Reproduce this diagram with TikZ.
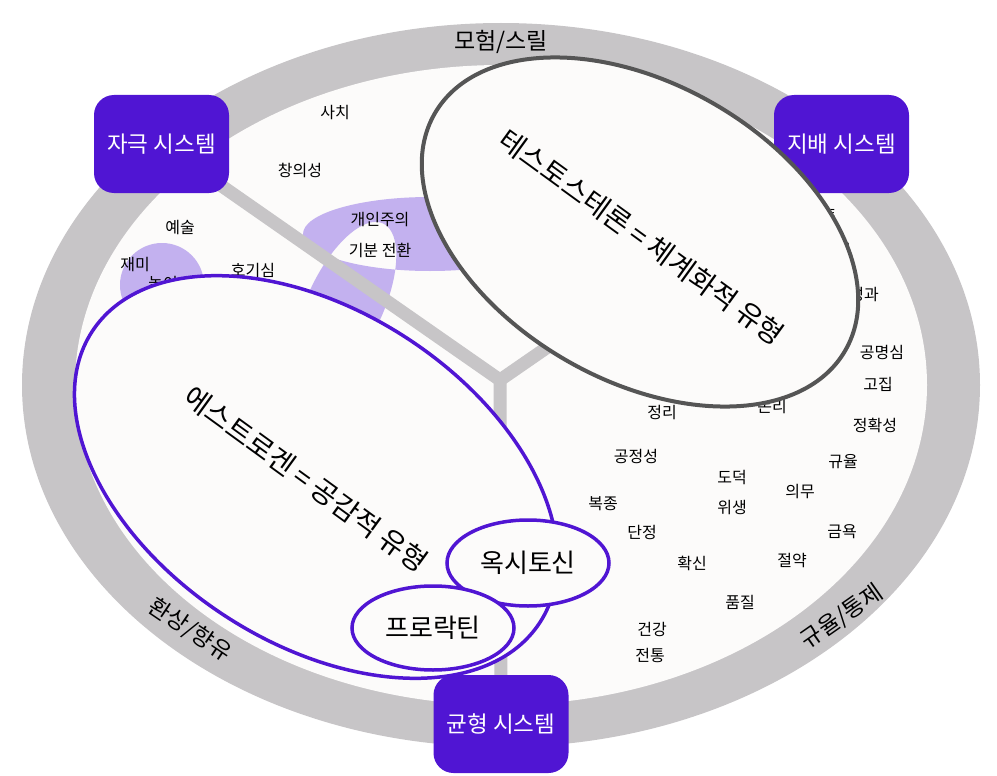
\documentclass[tikz,border=0pt]{standalone}
\usepackage{fontspec}
\setmainfont{Noto Sans CJK KR}
\usepackage{tikz}
\usetikzlibrary{shapes.geometric,positioning}
\definecolor{ringgray}{HTML}{C7C5C7}
\definecolor{bgwhite}{HTML}{FCFBFA}
\definecolor{sysviolet}{HTML}{5015D3}
\definecolor{blobviolet}{HTML}{C3B1EF}
\definecolor{testogray}{HTML}{555555}
\pgfdeclarelayer{back}
\pgfsetlayers{back,main}

\begin{document}
\begin{tikzpicture}[x=1pt, y=-1pt, ultra thick]
   \useasboundingbox (0,0) rectangle (997,776);
   \begin{scope}[every node/.style={rectangle, rounded corners=20pt, fill=sysviolet, text=white,
        minimum width=135pt, minimum height=98pt, font=\fontsize{22.5}{26}\selectfont}]
    \node (stim) at (161.5,144) {자극 시스템};
    \node (dom) at (841.5,144) {지배 시스템};
    \node (bal) at (501,724) {균형 시스템};
   \end{scope}
   \coordinate (hub) at (500,380);
   \begin{pgfonlayer}{back}
    \fill[ringgray] (501,385) ellipse [x radius=479pt, y radius=362pt];
    \fill[bgwhite] (501,385) ellipse [x radius=426pt, y radius=320pt];
    \fill[blobviolet] (162,285) circle (42pt);
    \fill[blobviolet, even odd rule] (430,234) ellipse [x radius=127pt, y radius=37pt]
         (345,305) ellipse [x radius=90pt, y radius=38pt, rotate=65];
    \begin{scope}[draw=ringgray, line width=13pt]
     \draw[ringgray] (hub) -- (stim.center);
     \draw[ringgray] (hub) -- (dom.center);
     \draw[ringgray] (hub) -- (bal.center);
    \end{scope}
   \end{pgfonlayer}
   \begin{scope}[every node/.style={font=\fontsize{23}{26}\selectfont, inner sep=0}]
    \node (r1) at (501,42) {모험/스릴};
    \node (r2) [rotate=-34] at (190,630) {환상/향유};
    \node (r3) [rotate=35] at (842,617) {규율/통제};
   \end{scope}
   \begin{scope}[every node/.style={font=\fontsize{16}{19}\selectfont, inner sep=0}]
    \node (w1) at (335,113) {사치};
    \node (w2) at (300,170) {창의성};
    \node (w3) at (180,228) {예술};
    \node (w4) at (135,265) {재미};
    \node (w5) at (163,284) {놀이};
    \node (w6) at (253,271) {호기심};
    \node (w7) at (380,220) {개인주의};
    \node (w8) at (380,250) {기분 전환};
    \node (w9) at (822,215) {영토};
    \node (w10) at (836,251) {권력};
    \node (w11) at (864,295) {성과};
    \node (w12) at (882,352) {공명심};
    \node (w13) at (878,384) {고집};
    \node (w14) at (875,425) {정확성};
    \node (w15) at (843,462) {규율};
    \node (w16) at (800,492) {의무};
    \node (w17) at (842,532) {금욕};
    \node (w18) at (792,561) {절약};
    \node (w19) at (740,602) {품질};
    \node (w20) at (772,407) {논리};
    \node (w21) at (662,413) {정리};
    \node (w22) at (636,456) {공정성};
    \node (w23) at (732,478) {도덕};
    \node (w24) at (732,508) {위생};
    \node (w25) at (603,504) {복종};
    \node (w26) at (642,532) {단정};
    \node (w27) at (692,563) {확신};
    \node (w28) at (652,629) {건강};
    \node (w29) at (650,655) {전통};
   \end{scope}
   \begin{scope}[every node/.style={ellipse, fill=bgwhite, inner sep=0}]
    \node (testo) [draw=testogray, line width=4pt, minimum width=474pt, minimum height=296pt, rotate=-30] at (640,232) {};
    \node (estro) [draw=sysviolet, line width=3.5pt, minimum width=534pt, minimum height=332pt, rotate=-33] at (316,477) {};
    \node (oxy) [draw=sysviolet, line width=3.5pt, minimum width=162pt, minimum height=86pt] at (528,563) {};
    \node (prl) [draw=sysviolet, line width=3.5pt, minimum width=162pt, minimum height=84pt] at (433,628) {};
   \end{scope}
   \node (testotext) [rotate=-36, font=\fontsize{28}{32}\selectfont] at (642,237) {테스토스테론 = 체계화적 유형};
   \node (estrotext) [rotate=-36, font=\fontsize{28}{32}\selectfont] at (306,479) {에스트로겐 = 공감적 유형};
   \node (oxytext) [font=\fontsize{26}{30}\selectfont] at (oxy.center) {옥시토신};
   \node (prltext) [font=\fontsize{26}{30}\selectfont] at (prl.center) {프로락틴};
\end{tikzpicture}
\end{document}
